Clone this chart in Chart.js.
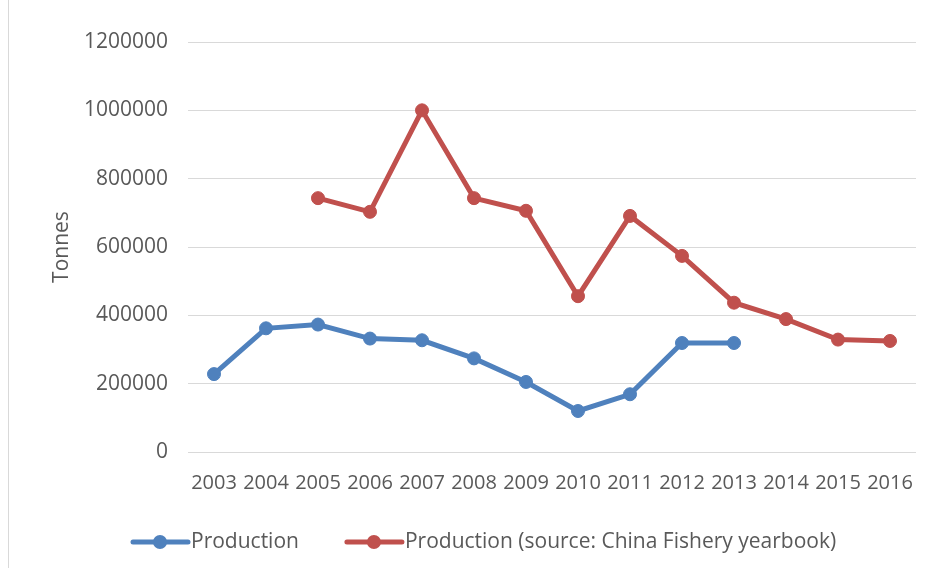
<!DOCTYPE html>
<html>
<head>
<meta charset="utf-8">
<script src="https://cdn.jsdelivr.net/npm/chart.js@4.4.1/dist/chart.umd.min.js"></script>
<style>
    html, body { margin: 0; padding: 0; background: #fff; }
</style>
</head>
<body>
<canvas id="chart" width="932" height="568"></canvas>
<script>
const years = ['2003', '2004', '2005', '2006', '2007', '2008', '2009', '2010', '2011', '2012', '2013', '2014', '2015', '2016'];
const production = [228000, 362000, 373000, 332000, 327000, 274000, 205000, 120000, 169000, 319000, 319000, null, null, null];
const productionYearbook = [null, null, 743000, 703000, 1000000, 743000, 706000, 456000, 691000, 574000, 437000, 389000, 329000, 325000];
const yMax = 1200000;
const yStep = 200000;

const seriesNames = ['Production', 'Production (source: China Fishery yearbook)'];
const seriesColors = ['#4F81BD', '#C0504D'];
const textColor = '#595959';

Chart.defaults.font.family = "'Open Sans', sans-serif";
Chart.defaults.font.size = 20;
Chart.defaults.color = textColor;

// legend drawn by hand: line with a dot in the middle, like the Excel one
const lineLegend = {
    id: 'lineLegend',
    afterDraw(chart) {
        const ctx = chart.ctx;
        const y = 542;
        let x = 133;
        ctx.save();
        ctx.font = "21px 'Open Sans', sans-serif";
        ctx.textBaseline = 'middle';
        ctx.textAlign = 'left';
        chart.data.datasets.forEach((ds) => {
            ctx.strokeStyle = ds.borderColor;
            ctx.lineWidth = 5;
            ctx.lineCap = 'round';
            ctx.beginPath();
            ctx.moveTo(x, y);
            ctx.lineTo(x + 55, y);
            ctx.stroke();
            ctx.fillStyle = ds.borderColor;
            ctx.beginPath();
            ctx.arc(x + 27, y, 7, 0, Math.PI * 2);
            ctx.fill();
            ctx.fillStyle = textColor;
            ctx.fillText(ds.label, x + 58, y);
            x += 58 + ctx.measureText(ds.label).width + 48;
        });
        // left edge of the chart frame
        ctx.strokeStyle = '#d9d9d9';
        ctx.lineWidth = 1;
        ctx.beginPath();
        ctx.moveTo(8.5, 0);
        ctx.lineTo(8.5, chart.height);
        ctx.stroke();
        ctx.restore();
    },
};

new Chart(document.getElementById('chart'), {
    type: 'line',
    data: {
        labels: years,
        datasets: [production, productionYearbook].map((values, i) => ({
            label: seriesNames[i],
            data: values,
            borderColor: seriesColors[i],
            backgroundColor: seriesColors[i],
            borderWidth: 5,
            pointRadius: 6.5,
            pointBorderWidth: 1,
            pointHoverRadius: 6.5,
            tension: 0,
            spanGaps: false,
        })),
    },
    options: {
        responsive: false,
        animation: false,
        devicePixelRatio: 1,
        layout: { padding: { left: 8, top: 42, right: 16, bottom: 0 } },
        plugins: {
            legend: { display: false },
            tooltip: { enabled: false },
        },
        scales: {
            x: {
                offset: true,
                grid: { display: false },
                border: { display: false },
                ticks: { padding: 11, maxRotation: 0, autoSkip: false },
                afterFit: (scale) => { scale.height = 116; },
            },
            y: {
                min: 0,
                max: yMax,
                ticks: { stepSize: yStep, padding: 20, font: { size: 21 }, callback: (v) => String(v) },
                grid: { color: '#d9d9d9', lineWidth: 1, drawTicks: false },
                border: { display: false },
                title: { display: true, text: 'Tonnes', font: { size: 21 }, padding: { top: 41, bottom: 0 } },
                afterFit: (scale) => { scale.width = 180; },
            },
        },
    },
    plugins: [lineLegend],
});
</script>
</body>
</html>
